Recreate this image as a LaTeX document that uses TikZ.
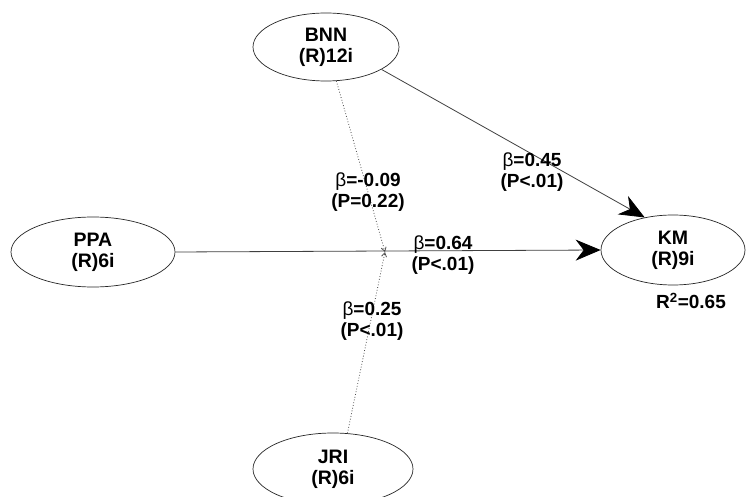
\documentclass[tikz,border=0pt]{standalone}
\usepackage{fontspec}
\setmainfont{Liberation Sans}
\usetikzlibrary{arrows.meta,shapes.geometric}
\tikzset{
  lv/.style={draw=black!85, line width=0.7pt, ellipse, inner sep=0pt, font=\bfseries\fontsize{19.5}{21}\selectfont, align=center},
  lbl/.style={font=\bfseries\fontsize{19}{21}\selectfont, align=center, inner sep=0pt},
  path/.style={draw=black!75, line width=0.8pt, -{Stealth[length=25pt,width=21pt,inset=8pt,color=black]}},
  modpath/.style={draw=black!70, line width=0.8pt, dotted, -{Straight Barb[length=4pt,width=5pt]}}
}
\begin{document}
\begin{tikzpicture}[x=1pt,y=-1pt]
\useasboundingbox[fill=white] (0,0) rectangle (748,497);
\node[lv, minimum width=146pt, minimum height=68pt] (bnn) at (326,47) {BNN\\(R)12i};
\node[lv, minimum width=164pt, minimum height=70pt] (ppa) at (93,252) {PPA\\(R)6i};
\node[lv, minimum width=144pt, minimum height=70pt] (km) at (673,250) {KM\\(R)9i};
\node[lv, minimum width=160pt, minimum height=72pt] (jri) at (333,469) {JRI\\(R)6i};
\coordinate (mod) at (385,252);
\draw[path] (ppa.east) -- (km.west);
\draw[path] (bnn.-22) -- (km.131);
\draw[modpath] (bnn.-73) -- (mod);
\draw[modpath] (jri.68) -- (mod);
\node[lbl] (l1) at (368,192) {{\mdseries β}=-0.09\\(P=0.22)};
\node[lbl] (l2) at (443,255) {{\mdseries β}=0.64\\(P<.01)};
\node[lbl] (l3) at (372,321) {{\mdseries β}=0.25\\(P<.01)};
\node[lbl] (l4) at (532,172) {{\mdseries β}=0.45\\(P<.01)};
\node[lbl] (r2) at (691,301) {R\textsuperscript{2}=0.65};
\end{tikzpicture}
\end{document}
